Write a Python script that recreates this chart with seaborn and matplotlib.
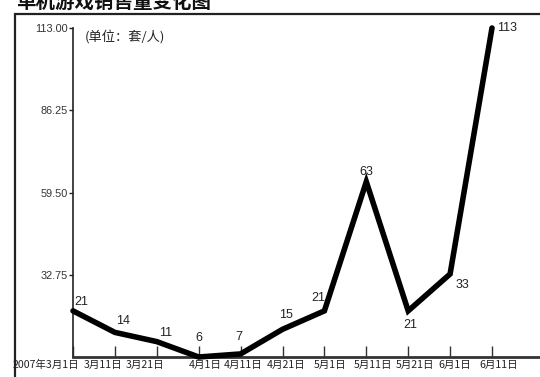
import matplotlib
matplotlib.use("Agg")
import matplotlib.pyplot as plt
import seaborn as sns
import pandas as pd
from matplotlib.transforms import ScaledTranslation
from matplotlib.patches import Rectangle

# Sales figures sampled every ten days
dates = ["2007年3月1日", "3月11日", "3月21日", "4月1日", "4月11日", "4月21日",
         "5月1日", "5月11日", "5月21日", "6月1日", "6月11日"]
sales = [21, 14, 11, 6, 7, 15, 21, 63, 21, 33, 113]
y_ticks = [32.75, 59.50, 86.25, 113.00]
title = "单机游戏销售量变化图"
unit_note = "(单位：套/人)"

sns.set_theme(style="white")
plt.rcParams["font.family"] = ["Noto Sans CJK SC", "DejaVu Sans"]

W, H = 540, 377
fig = plt.figure(figsize=(W / 100, H / 100), dpi=100)
fig.patch.set_facecolor("white")

# axes area in pixels: left spine at x=73, x-axis at y=357, top at y=28
ax = fig.add_axes([73 / W, 1 - 357 / H, 1 - 73 / W, (357 - 28) / H])
ax.set_facecolor("white")

df = pd.DataFrame({"pos": range(len(dates)), "sales": sales})
sns.lineplot(data=df, x="pos", y="sales", ax=ax, color="black",
             linewidth=4.0, zorder=5)
for ln in ax.lines:
    ln.set_solid_joinstyle("miter")
    ln.set_clip_on(False)

step_px = 41.9
ax.set_xlim(0, (W - 73) / step_px)
ax.set_ylim(6, 113)

for side in ["top", "right"]:
    ax.spines[side].set_visible(False)
ax.spines["left"].set_color("#222222")
ax.spines["left"].set_linewidth(1.2)
ax.spines["bottom"].set_color("#333333")
ax.spines["bottom"].set_linewidth(2.0)

ax.set_xlabel("")
ax.set_ylabel("")

ax.set_xticks(range(len(dates)))
ax.set_xticklabels(dates, fontsize=7.6, color="#222222")
ax.tick_params(axis="x", direction="in", length=8, width=1, color="#333333",
               pad=2, bottom=True)

ax.set_yticks(y_ticks)
ax.set_yticklabels([f"{v:.2f}" for v in y_ticks], fontsize=7.8,
                   color="#333333", family=["Liberation Sans", "DejaVu Sans"])
ax.tick_params(axis="y", direction="out", length=3, width=1, color="#222222",
               pad=1, left=True)

# nudge the crowded date labels
shifts = [-27, -12, -12, 6, 3, 4, 6, 7, 7, 5, 7]
for lab, dx in zip(ax.get_xticklabels(), shifts):
    lab.set_transform(lab.get_transform() +
                      ScaledTranslation(dx / 100, 0, fig.dpi_scale_trans))

# value labels next to each point (pixel offsets, y up)
label_offsets = [(8, 9), (8, 11), (9, 9), (0, 19), (-2, 17), (3, 14),
                 (-6, 13), (0, 10), (2, -14), (12, -11), (15, 0)]
for i, (v, (dx, dy)) in enumerate(zip(sales, label_offsets)):
    ax.annotate(str(v), xy=(i, v), xytext=(dx, dy), textcoords="offset pixels",
                ha="center", va="center", fontsize=9, color="#222222",
                family=["Liberation Sans", "DejaVu Sans"], zorder=6,
                annotation_clip=False)

fig.text(85 / W, 1 - 37 / H, unit_note, ha="left", va="center",
         fontsize=9.5, color="#222222")

# outer frame and the heading above it, trimmed by the top edge
fig.add_artist(Rectangle((15 / W, -0.1), 1.0, (1 - 14 / H) + 0.1,
                         transform=fig.transFigure, fill=False,
                         edgecolor="#222222", linewidth=1.6))
fig.text(16 / W, 1 - 8 / H, title, ha="left", va="baseline",
         fontsize=14, fontweight="bold", color="#111111")

fig.savefig("out.png", dpi=100, facecolor="white")
